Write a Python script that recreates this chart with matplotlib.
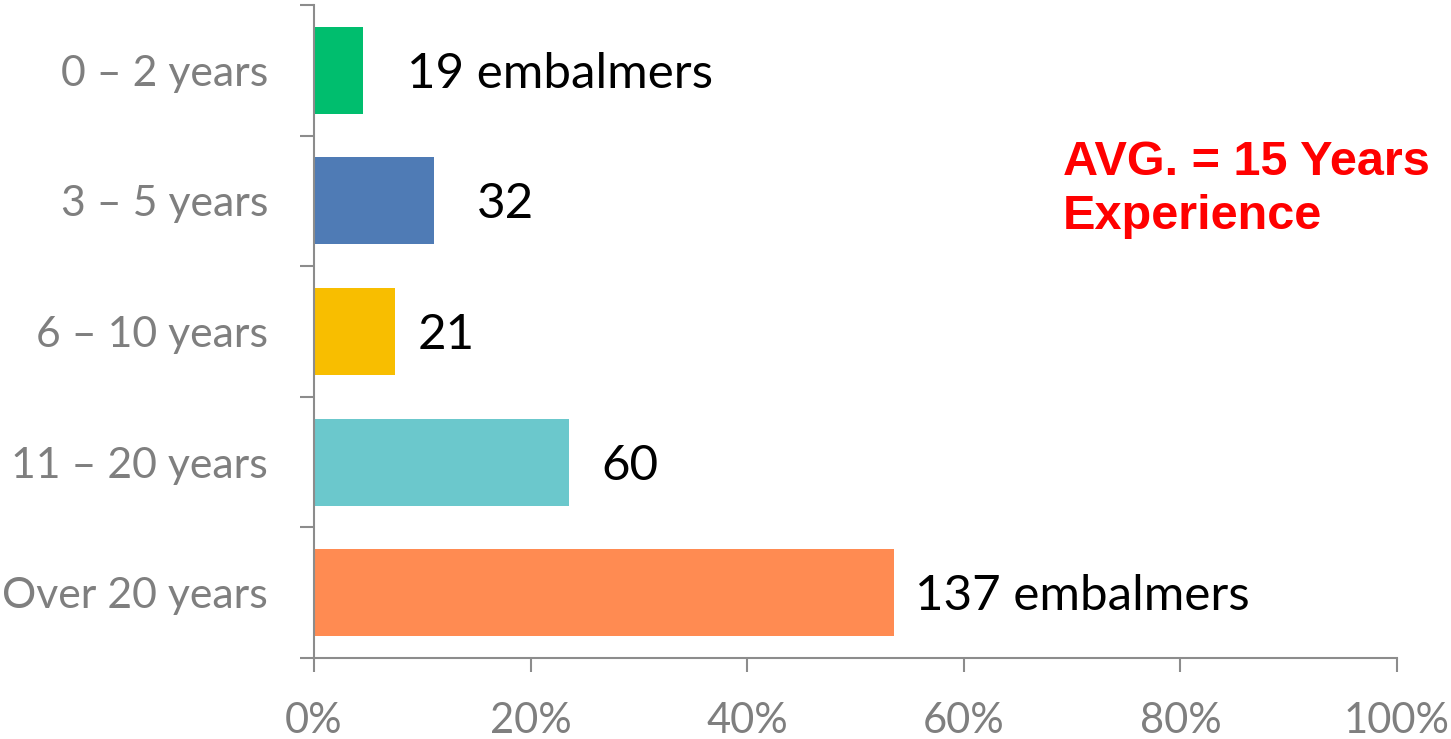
import matplotlib
matplotlib.use("Agg")
import matplotlib.pyplot as plt

categories = ["0 – 2 years", "3 – 5 years", "6 – 10 years", "11 – 20 years", "Over 20 years"]
percent = [4.5, 11.1, 7.5, 23.5, 53.6]
counts_text = ["19 embalmers", "32", "21", "60", "137 embalmers"]
colors = ["#00BE6E", "#4F7BB5", "#F8BE00", "#6BC8CC", "#FF8B52"]
xtick_values = [0, 20, 40, 60, 80, 100]
xtick_labels = ["0%", "20%", "40%", "60%", "80%", "100%"]
note_text = "AVG. = 15 Years\nExperience"

# label gaps in points (style only)
label_gap = [32, 31, 16, 24, 15]

AXIS_GRAY = "#8C8C8C"
TICK_GRAY = "#7F7F7F"

fig = plt.figure(figsize=(14.51, 7.39), dpi=100)
ax = fig.add_axes([314/1451, 1 - 658/739, (1397 - 314)/1451, (658 - 5)/739])

y = list(range(len(categories)))
ax.barh(y, percent, height=0.665, color=colors, zorder=2)
ax.set_xlim(0, 100)
ax.set_ylim(len(categories) - 0.5, -0.5)

for spine in ["top", "right"]:
    ax.spines[spine].set_visible(False)
for spine in ["left", "bottom"]:
    ax.spines[spine].set_color(AXIS_GRAY)
    ax.spines[spine].set_linewidth(1.5)

ax.set_xticks(xtick_values)
ax.set_xticklabels(xtick_labels)
ax.tick_params(axis="x", length=10, width=1.5, color=AXIS_GRAY, pad=22,
               labelsize=30, labelcolor=TICK_GRAY)
for t in ax.get_xticklabels():
    t.set_fontfamily("Lato")

# major y ticks at category boundaries, labels at centers
ax.set_yticks([i - 0.5 for i in range(len(categories) + 1)])
ax.set_yticklabels([])
ax.tick_params(axis="y", which="major", length=10, width=1.5, color=AXIS_GRAY)
ax.set_yticks(y, minor=True)
ax.set_yticklabels(categories, minor=True)
ax.tick_params(axis="y", which="minor", length=0, pad=33, labelsize=30.8, labelcolor=TICK_GRAY)
for t in ax.get_yticklabels(minor=True):
    t.set_fontfamily("Lato")

for yi, v, txt, g in zip(y, percent, counts_text, label_gap):
    ax.annotate(txt, xy=(v, yi), xytext=(g, -2.5), textcoords="offset points",
                ha="left", va="center", fontsize=35.5, color="black", family="Lato")

fig.text(1063/1451, 1 - 140/739, note_text, ha="left", va="top", color="#FF0000",
         fontsize=35, fontweight="bold", family="Liberation Sans", linespacing=1.27)

fig.savefig("out.png", dpi=100)
